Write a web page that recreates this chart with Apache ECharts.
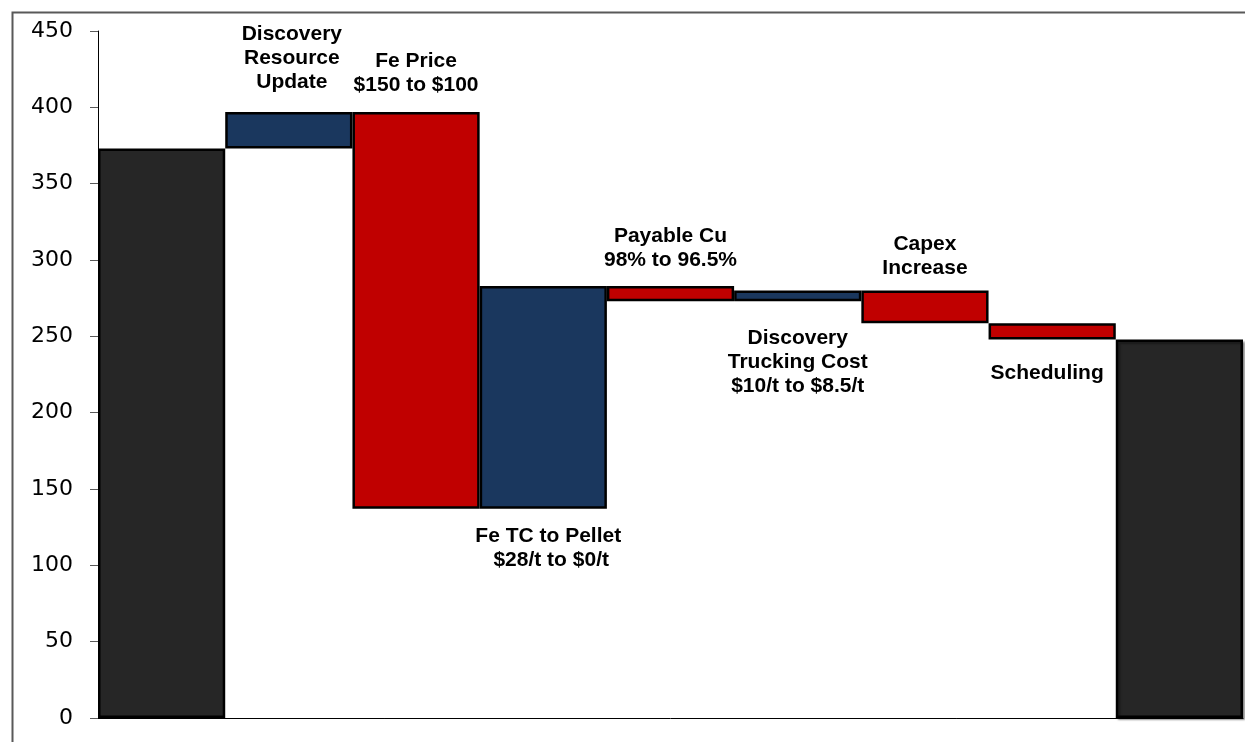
<!DOCTYPE html>
<html>
<head>
<meta charset="utf-8">
<script src="https://cdn.jsdelivr.net/npm/echarts@6/dist/echarts.min.js"></script>
<style>html,body{margin:0;padding:0;background:#fff}#c{width:1245px;height:742px}</style>
</head>
<body>
<div id="c"></div>
<script>
const categories = ['Start', 'Discovery Resource Update', 'Fe Price', 'Fe TC to Pellet', 'Payable Cu', 'Discovery Trucking Cost', 'Capex Increase', 'Scheduling', 'End'];
// first and last are totals, the rest are changes
const changes = [373, 24, -260, 146, -10, 7, -21.5, -10.5, 248];
const isTotal = [true, false, false, false, false, false, false, false, true];
const labelTexts = ['', 'Discovery\nResource\nUpdate', 'Fe Price\n$150 to $100', 'Fe TC to Pellet\n $28/t to $0/t', 'Payable Cu\n98% to 96.5%', 'Discovery\nTrucking Cost\n$10/t to $8.5/t', 'Capex\nIncrease', 'Scheduling', ''];
const labelSide = ['', 'top', 'top', 'bottom', 'top', 'bottom', 'top', 'bottom', ''];
const labelGap = [0, 18, 15, 15, 14, 25, 10, 22, 0];
const labelShift = [0, 3, 0, 5, 0, 0, 0, -5, 0];
const yTicks = [0, 50, 100, 150, 200, 250, 300, 350, 400, 450];

const COL_TOTAL = '#262626', COL_UP = '#1a375e', COL_DOWN = '#c00000';

const baseData = [], barData = [];
let running = 0;
changes.forEach((v, i) => {
  let base, h, color;
  if (isTotal[i]) { base = 0; h = v; running = v; color = COL_TOTAL; }
  else if (v >= 0) { base = running; h = v; running += v; color = COL_UP; }
  else { base = running + v; h = -v; running += v; color = COL_DOWN; }
  baseData.push(base);
  const item = {
    value: h,
    itemStyle: { color: color, borderColor: '#000', borderWidth: 2.5 }
  };
  if (i === changes.length - 1) {
    item.itemStyle.shadowColor = 'rgba(0,0,0,0.35)';
    item.itemStyle.shadowOffsetX = 2;
    item.itemStyle.shadowOffsetY = 2;
    item.itemStyle.shadowBlur = 2;
  }
  if (labelTexts[i]) {
    item.label = {
      show: true,
      position: labelSide[i],
      distance: labelGap[i],
      offset: [labelShift[i], 0],
      formatter: labelTexts[i],
      fontFamily: 'Liberation Sans, Arial, sans-serif',
      fontWeight: 'bold',
      fontSize: 21,
      lineHeight: 24,
      color: '#000',
      align: 'center'
    };
  }
  barData.push(item);
});

const chart = echarts.init(document.getElementById('c'), null, { renderer: 'canvas' });
chart.setOption({
  animation: false,
  backgroundColor: '#fff',
  graphic: [{
    type: 'rect', left: 10, top: 10, z: -10,
    shape: { width: 1300, height: 800 },
    style: { fill: 'none', stroke: '#595959', lineWidth: 2 }
  }],
  grid: { left: 98, right: 2, top: 31, bottom: 24, containLabel: false },
  xAxis: {
    type: 'category',
    data: categories,
    axisLine: { show: true, lineStyle: { color: '#000', width: 1 } },
    axisTick: { show: false },
    axisLabel: { show: false },
    splitLine: { show: false }
  },
  yAxis: {
    type: 'value',
    min: 0, max: 450, interval: 50,
    axisLine: { show: true, lineStyle: { color: '#000', width: 1 } },
    axisTick: { show: true, length: 8, lineStyle: { color: '#595959' } },
    splitLine: { show: false },
    axisLabel: {
      margin: 25,
      fontFamily: 'DejaVu Sans, Verdana, sans-serif',
      fontSize: 22,
      color: '#000',
      formatter: v => yTicks.includes(v) ? String(v) : ''
    }
  },
  series: [
    {
      type: 'bar', stack: 'w', data: baseData,
      itemStyle: { color: 'transparent', borderWidth: 0 },
      silent: true, barCategoryGap: '0%'
    },
    {
      type: 'bar', stack: 'w', data: barData, barCategoryGap: '0%'
    }
  ]
});
</script>
</body>
</html>
